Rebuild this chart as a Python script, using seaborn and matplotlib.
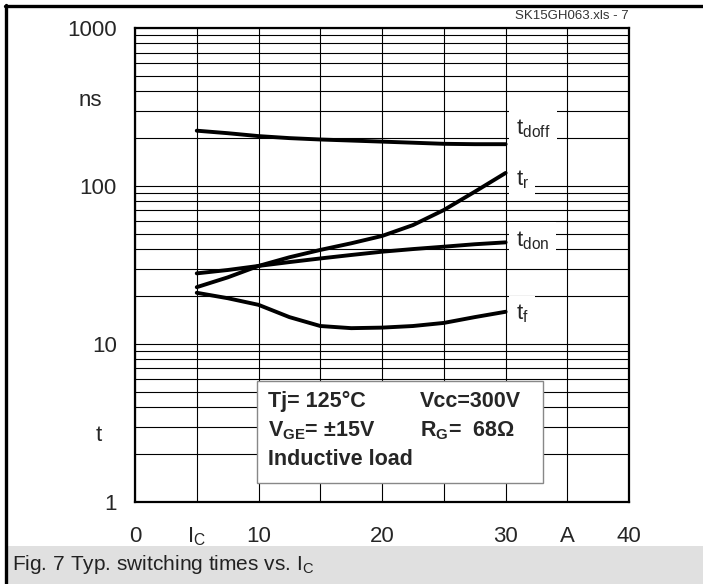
import numpy as np
import pandas as pd
import seaborn as sns
import matplotlib.pyplot as plt
from matplotlib.patches import Rectangle
from matplotlib.lines import Line2D
from matplotlib.ticker import FixedLocator, NullFormatter
import matplotlib.transforms as mtransforms

# Values (collector current in A, times in ns)
ic = [5, 7.5, 10, 12.5, 15, 17.5, 20, 22.5, 25, 27.5, 30]
t_doff = [224, 216, 207, 201, 197, 194, 191, 188, 185, 184, 184]
t_r = [22.9, 26.4, 31.2, 35.4, 39.4, 43.4, 48.3, 56.6, 70.5, 92, 121]
t_don = [28.0, 29.4, 31.2, 33.0, 34.8, 36.6, 38.4, 39.9, 41.3, 42.8, 44.0]
t_f = [21.1, 19.5, 17.7, 14.8, 13.0, 12.6, 12.7, 13.0, 13.6, 14.8, 16.0]

curve_names = ['doff', 'r', 'don', 'f']
label_y = [232, 109, 45.4, 15.6]

x_ticks = [0, 10, 20, 30, 40]
x_minor = [5, 15, 25, 35]
x_minor_labels = [r'$\mathregular{I_C}$', '', '', 'A']
y_ticks = [1, 10, 100, 1000]

sns.set_style('white')
plt.rcParams['font.family'] = ['Liberation Sans', 'DejaVu Sans']
plt.rcParams['mathtext.fontset'] = 'custom'
plt.rcParams['mathtext.rm'] = 'Liberation Sans'
plt.rcParams['mathtext.it'] = 'Liberation Sans'
plt.rcParams['mathtext.bf'] = 'Liberation Sans:bold'

df = pd.DataFrame({
    'ic': ic * 4,
    't': t_doff + t_r + t_don + t_f,
    'curve': sum([[n] * len(ic) for n in curve_names], []),
})

fig = plt.figure(figsize=(7.03, 5.84), dpi=100)
ax = fig.add_axes([0.192, 0.1404, 0.703, 0.8116])

sns.lineplot(data=df, x='ic', y='t', hue='curve', palette=['black'] * 4,
             linewidth=2.8, legend=False, ax=ax, zorder=3)

ax.set_yscale('log')
ax.set_xlim(0, 40)
ax.set_ylim(1, 1000)
ax.set_xticks(x_ticks)
ax.xaxis.set_minor_locator(FixedLocator(x_minor))
ax.set_xticklabels([str(v) for v in x_ticks], fontsize=16)
ax.set_xticklabels(x_minor_labels, minor=True, fontsize=16)
ax.set_yticks(y_ticks)
ax.set_yticklabels([str(v) for v in y_ticks], fontsize=16)
ax.yaxis.set_minor_locator(FixedLocator([m * 10 ** d for d in range(3) for m in range(2, 10)]))
ax.yaxis.set_minor_formatter(NullFormatter())
ax.tick_params(which='both', length=0)
ax.tick_params(axis='x', which='both', pad=17)
ax.tick_params(axis='y', pad=13)
ax.grid(True, which='both', color='black', linewidth=0.8)
ax.set_axisbelow(True)
for s in ax.spines.values():
    s.set_color('black')
    s.set_linewidth(1.6)
ax.set_xlabel('')
ax.set_ylabel('')

# unit label and symbol on the y axis
trans = mtransforms.blended_transform_factory(ax.transAxes, ax.transData)
ax.text(-0.066, 350, 'ns', transform=trans, ha='right', va='center', fontsize=16)
ax.text(-0.066, 2.65, 't', transform=trans, ha='right', va='center', fontsize=16)

# curve labels with white background over the grid
for n, yv in zip(curve_names, label_y):
    ax.text(30.8, yv, r'$\mathregular{t_{%s}}$' % n, fontsize=16, ha='left', va='center',
            zorder=4, bbox=dict(boxstyle='square,pad=0.3', facecolor='white', edgecolor='none'))

# conditions box
ax.add_patch(Rectangle((0.247, 0.040), 0.579, 0.215, transform=ax.transAxes,
                       facecolor='white', edgecolor='#888888', linewidth=1.0, zorder=4))
cond = [
    (0.269, 0.212, 'Tj= 125°C'), (0.577, 0.212, 'Vcc=300V'),
    (0.269, 0.150, r'$\mathbf{V_{GE}}$= ±15V'), (0.577, 0.150, r'$\mathbf{R_G}$=  68Ω'),
    (0.269, 0.090, 'Inductive load'),
]
for x, y, s in cond:
    ax.text(x, y, s, transform=ax.transAxes, fontsize=15.5, fontweight='bold',
            ha='left', va='center', zorder=5)

# header, caption band and frame
fig.text(0.894, 0.972, 'SK15GH063.xls - 7', fontsize=9.5, color='#333333', ha='right', va='center')
fig.patches.append(Rectangle((0.011, 0.0), 0.989, 0.065, transform=fig.transFigure,
                             facecolor='#e0e0e0', edgecolor='none', zorder=0))
fig.text(0.017, 0.034, r'Fig. 7 Typ. switching times vs. $\mathregular{I_C}$', fontsize=15,
         ha='left', va='center', color='#222222')
fig.lines.append(Line2D([0.0092, 0.0092], [0, 0.991], transform=fig.transFigure,
                        color='black', linewidth=2.4))
fig.lines.append(Line2D([0.0072, 1.0], [0.989, 0.989], transform=fig.transFigure,
                        color='black', linewidth=2.4))

fig.savefig('out.png', dpi=100)
